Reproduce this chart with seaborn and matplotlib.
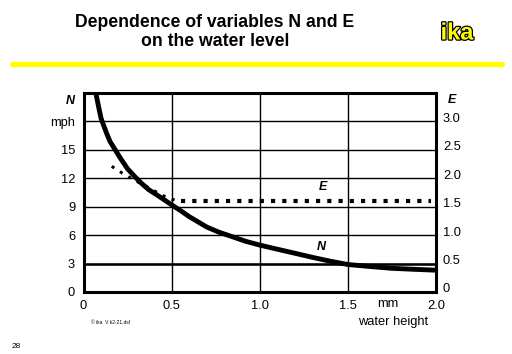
import matplotlib
matplotlib.use("Agg")
import matplotlib.pyplot as plt
import matplotlib.patheffects as pe
from matplotlib.lines import Line2D
from matplotlib.transforms import ScaledTranslation
import pandas as pd
import seaborn as sns

# N curve (left axis, mph)
n_height = [0.07, 0.085, 0.10, 0.13, 0.15, 0.18, 0.21, 0.25, 0.29, 0.33, 0.37, 0.42,
            0.46, 0.50, 0.55, 0.60, 0.65, 0.70, 0.77, 0.85, 0.92, 1.00, 1.08, 1.15,
            1.22, 1.30, 1.40, 1.50, 1.62, 1.75, 1.87, 2.00]
n_values = [21.0, 19.6, 18.3, 16.8, 15.9, 15.0, 14.1, 13.0, 12.2, 11.45, 10.8, 10.2,
            9.7, 9.2, 8.6, 7.95, 7.4, 6.85, 6.3, 5.8, 5.35, 4.95, 4.6, 4.3,
            4.0, 3.65, 3.25, 2.9, 2.7, 2.5, 2.4, 2.3]

# E curve (right axis), dotted
e_height_rise = [0.16, 0.22, 0.27, 0.33, 0.39, 0.44, 0.50, 0.555]
e_values_rise = [2.21, 2.09, 2.0, 1.9, 1.8, 1.71, 1.63, 1.60]
e_height_flat = [0.555, 1.97]
e_values_flat = [1.60, 1.60]

n_ticks = [0, 3, 6, 9, 12, 15, 18]
n_ticklabels = ["0", "3", "6", "9", "12", "15", "mph"]
e_ticks = [0, 0.5, 1.0, 1.5, 2.0, 2.5, 3.0]
e_ticklabels = ["0", "0.5", "1.0", "1.5", "2.0", "2.5", "3.0"]
x_ticks = [0, 0.5, 1.0, 1.5, 2.0]
x_ticklabels = ["0", "0.5", "1.0", "1.5", "2.0"]

sns.set_style("white")
plt.rcParams["font.family"] = ["Liberation Sans", "DejaVu Sans"]
plt.rcParams["text.color"] = "black"
plt.rcParams["xtick.color"] = "black"
plt.rcParams["ytick.color"] = "black"

fig = plt.figure(figsize=(5.12, 3.54), dpi=100)
ax = fig.add_axes([83.5 / 512, 1 - 292 / 354, (436 - 83.5) / 512, (292 - 93) / 354])

n_df = pd.DataFrame({"h": n_height, "N": n_values})
sns.lineplot(data=n_df, x="h", y="N", ax=ax, color="black", linewidth=3.5,
             solid_capstyle="butt", zorder=5)

ax.set_xlim(0, 2.0)
ax.set_ylim(0, 21)
ax.set_xticks(x_ticks)
ax.set_xticklabels(x_ticklabels, fontsize=9.3)
ax.set_yticks(n_ticks)
ax.set_yticklabels(n_ticklabels, fontsize=9.3)
ax.tick_params(length=0, pad=6, colors="black")
ax.set_xlabel("")
ax.set_ylabel("")
ax.grid(True, color="black", linewidth=1.0)
for sp in ax.spines.values():
    sp.set_visible(True)
    sp.set_color("black")
    sp.set_linewidth(2.2)
ax.axhline(3, color="black", linewidth=1.8, zorder=1)

ax2 = ax.twinx()
e_rise = pd.DataFrame({"h": e_height_rise, "E": e_values_rise})
e_flat = pd.DataFrame({"h": e_height_flat, "E": e_values_flat})
sns.lineplot(data=e_rise, x="h", y="E", ax=ax2, color="black", linewidth=2.2,
             linestyle=(0, (1, 2.2)), zorder=4)
sns.lineplot(data=e_flat, x="h", y="E", ax=ax2, color="black", linewidth=3.0,
             linestyle=(0, (1, 1.7)), zorder=4)
ax2.set_ylim(0, 3.5)
ax2.set_yticks(e_ticks)
ax2.set_yticklabels(e_ticklabels, fontsize=9.3)
ax2.tick_params(length=0, pad=5, colors="black")
ax2.set_ylabel("")
ax2.grid(False)
for sp in ax2.spines.values():
    sp.set_visible(False)
shift = ScaledTranslation(0, 4 / 100, fig.dpi_scale_trans)
for lab in ax2.get_yticklabels():
    lab.set_transform(lab.get_transform() + shift)

ax.text(-0.075, 20.2, "N", ha="center", va="center", fontsize=9,
        fontweight="bold", fontstyle="italic")
ax2.text(2.09, 3.37, "E", ha="center", va="center", fontsize=9,
         fontweight="bold", fontstyle="italic")
ax2.text(1.36, 1.84, "E", ha="center", va="center", fontsize=9,
         fontweight="bold", fontstyle="italic")
ax.text(1.35, 4.8, "N", ha="center", va="center", fontsize=9,
        fontweight="bold", fontstyle="italic")

fig.text(388 / 512, 1 - 304 / 354, "mm", ha="center", va="center", fontsize=9.3)
fig.text(393 / 512, 1 - 322 / 354, "water height", ha="center", va="center", fontsize=9.3)
fig.text(91 / 512, 1 - 322 / 354, "\u00a9 ika  V k2-21.dsf", ha="left", va="center", fontsize=3.5)
fig.text(12 / 512, 1 - 347 / 354, "28", ha="left", va="center", fontsize=6)

fig.text(215 / 512, 1 - 32 / 354, "Dependence of variables N and E\non the water level",
         ha="center", va="center", fontsize=12.7, fontweight="bold", linespacing=1.15)
fig.text(457 / 512, 1 - 33 / 354, "ika", ha="center", va="center", fontsize=17,
         fontweight="bold", color="#ffff00",
         path_effects=[pe.Stroke(linewidth=1.8, foreground="black"), pe.Normal()])
fig.add_artist(Line2D([12 / 512, 502 / 512], [1 - 64 / 354, 1 - 64 / 354],
                      color="#ffff00", linewidth=3.8, transform=fig.transFigure))

fig.savefig("out.png", dpi=100)
